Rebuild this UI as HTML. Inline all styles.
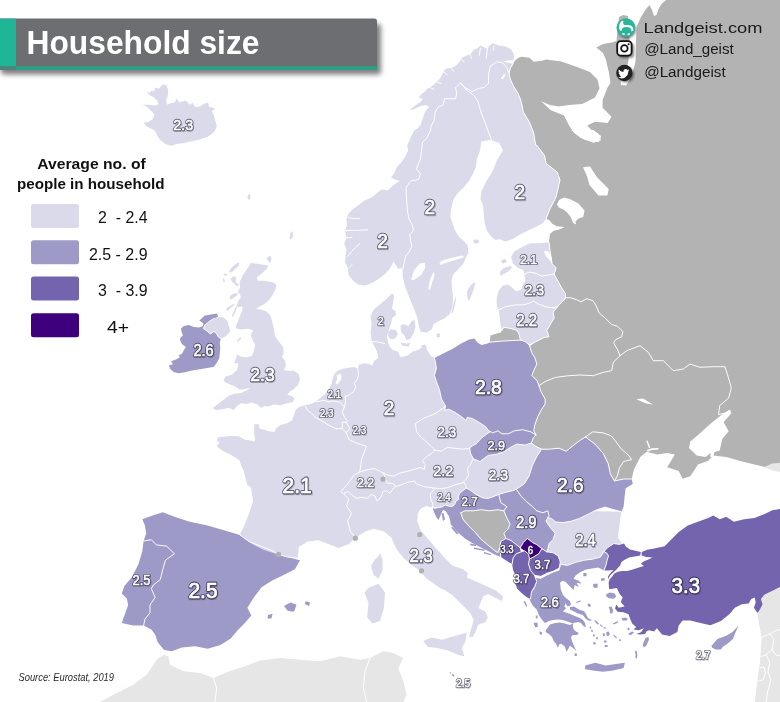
<!DOCTYPE html>
<html><head><meta charset="utf-8"><title>Household size</title>
<style>
html,body{margin:0;padding:0;background:#fff;}
body{width:780px;height:702px;overflow:hidden;font-family:"Liberation Sans",sans-serif;}
svg{display:block;position:absolute;left:0;top:0;}
#ov{will-change:transform;}
text{font-family:"Liberation Sans",sans-serif;}
.lo{fill:#2b2840;stroke:#2b2840;opacity:.66;stroke-linejoin:round;text-anchor:middle;}
.lb{fill:#fff;stroke:#fff;stroke-linejoin:round;text-anchor:middle;}
.ls{fill:#000;opacity:.22;text-anchor:middle;}
</style></head><body>
<svg width="780" height="702" viewBox="0 0 780 702">
<rect width="780" height="702" fill="#fff"/>

<g stroke-linejoin="round">
<polygon fill="#b3b3b3" points="513.1,63.8 515,60.5 518,58 521.3,56.7 529.5,57.7 533.6,61.8 541.8,60.8 546,59.5 561.5,61.5 577,67 590,72 597.5,79.5 599.5,88.5 595,97.5 582,104 569,105 559,106.5 550,105 541,101.3 551,110.3 564,115.4 569,125.6 574.4,133.3 584.6,139.7 598.7,142.3 601.3,136 592.3,130.8 587.2,125.6 595,121.8 607.7,123 611.5,116.7 602.6,107.7 602.6,100 607.7,87.2 610.5,83 609,73 606,60 603,53 596.4,47.4 603,44 612,42.5 616.5,41 617.5,30 619,17 623,15 628,16 629.5,30 629.5,45 628.5,60 626,72 620.5,81 621,85 626,85.5 631,78 635.5,62 636,40 636.5,27 641,17 646,9 649.5,5 652,10 654,16 656.5,15 659,8 661.5,4 666,0 780,0 780,463 764.6,467 744,462 726.2,457 713.3,455.6 708.2,460.8 698,464.6 690.3,476.2 682.6,478.7 678.7,471 667.2,467.2 674.9,454.4 667.2,453 657,454.4 646.7,451.8 640.3,457 633.8,469.7 631.8,479 623.6,479 614.4,481 610.3,473.8 608.2,463.6 603.1,453.3 594.9,444.1 585.6,436.9 580.5,440 572.3,446.2 566.2,451.3 559,448.2 549.7,449.2 541.5,449.2 535.4,446.2 531.3,443 533.3,437.9 535.9,434.9 533.8,430.8 534.9,424.6 537.9,416.4 541,410.3 545.1,404.1 545.1,399 541,391.8 539,385.6 536.9,380.5 531.8,375.4 533.8,370.3 536.9,364.1 534.9,357.9 531.8,352.8 529.7,346.3 535.6,341.8 543.8,337.7 549,336.7 546.9,330.5 551,323.3 554.1,318.2 553.1,312.1 558.2,305.9 564.4,299.7 565.4,297.7 565.4,293.6 561.3,287.4 558.2,281.3 555.1,276.2 554.1,274.1 556.2,267.9 552.1,263.8 550,250.5 549,242.3 549.2,240 550,233.8 553.8,230.8 560,229.2 564.6,226.9 556.9,226.2 552.3,223.8 549.2,220 546,219 543.8,222.5 546,219 549.7,209.5 556.2,196.7 560,180 557.4,172.3 546,163.3 544.6,155.6 537,145.4 535.6,144.9 533.6,132.6 529.5,122.3 523.3,112 521.3,101.8 518.2,93.6 513.1,85.4 510,78.2 509,73 510.5,68"/>
<polygon fill="#b3b3b3" points="489.7,342.2 490.5,335.6 496.7,333.6 500.8,332.6 501.8,330.5 503.8,327.4 511,328.5 517.2,330.5 519.2,334.6 521.5,340.1"/>
<polygon fill="#e6e6e6" points="100,702 113.3,694.7 133.3,684.7 146.7,674.7 156.7,659.7 163.3,654.7 168.3,656.3 170,664.7 183.3,671.3 200,673 213.3,678 228.2,671.8 243.6,666.7 260,660.5 280,658 300,659.7 320,661.3 340,656.3 360,659.7 370,658 383.3,651.3 393.3,653 403.3,658 398.3,668 403.3,681.3 406.7,694.7 403.3,702"/>
<polygon fill="#e6e6e6" points="757.4,613 760,609.6 762.6,604.3 760.9,599.1 764.3,594.8 773,590.4 780,587 780,702 754.8,702 756.5,687.8 758.3,673.9 760,661.7 760.9,649.6 761.7,637.4 760,628.7 758.3,620"/>
<polygon fill="#e6e6e6" points="764.6,467 772,463.5 780,463 780,472 772,470.5"/>
<polygon fill="#dadaeb" points="146.3,92.1 149.8,92.7 151.5,90.4 154.4,91.5 155,87.5 159,88.7 162.5,84.6 166.5,85.2 168.3,90.4 167.7,96.2 166,100.8 167.1,104.8 171.2,103.1 174.6,102.5 176.9,98.5 179.2,102.5 182.7,101.3 186.2,100.8 189.6,104.8 192.5,103.1 195.4,107.1 200,106.5 204,103.7 208.1,102.5 209.2,107.1 215,108.3 212.1,111.2 213.8,115.8 215.6,121.5 216.7,126.2 215,130.8 211.5,134.2 206.9,137.1 200,139.4 191.9,141.2 183.8,142.9 176.9,144 171.2,145.8 165.4,144 160.2,140 157.3,135.4 155,130.8 151,128.5 146.3,126.2 143.5,122.7 148.1,122.1 152.7,119.2 154.4,114.6 151.5,111.2 146.9,107.1 142.9,104.8 148.7,104.8 155,105.4 158.5,104.2 157.3,100.8 153.8,97.3 150.4,95.6"/>
<polygon fill="#dadaeb" points="248,195 250,194 250.5,198 249,200 247.5,198"/>
<polygon fill="#dadaeb" points="290,234 292.5,231 293,236 291,240 289.5,238"/>
<polygon fill="#dadaeb" points="251,262.8 258.7,264.1 268.3,265.4 266.4,269.2 261.3,273.7 256.8,277.6 257.4,280.8 265.1,280.8 274.1,282.7 276.7,285.3 274.7,291 271.5,296.8 267.7,301.3 263.8,304.5 259.4,306.4 256.2,309 261.3,309.6 266.4,311.5 270.3,315.4 272.2,321.8 273.6,328.1 275,336.2 279,341.7 283.1,347.1 283.8,353.8 281.7,356.5 285.1,360.6 285.8,366 283.8,370.1 287.8,370.7 293.9,370.7 298.6,374.1 300,379.5 298,385 293.9,389 289.8,391.7 287.1,395.1 291.2,395.8 294.6,398.5 293.2,401.9 287.1,403.2 280.4,405.3 273.6,404.6 268.2,406.6 264.1,405.9 261.4,408 257.4,404.6 251.9,402.5 246.5,403.9 241.1,403.2 237.1,405.9 233.7,410 228.9,408 222.2,409.3 215.4,410 212.7,408 218.1,403.9 223.5,399.8 228.9,395.8 234.4,393.7 241.1,393.1 246.5,390.4 250.6,387.7 245.2,389 239.8,389.7 234.4,386.3 227.6,383.6 223.5,380.9 224.9,376.8 231.7,374.8 237.1,370.1 238.4,363.3 233.7,363.3 235.7,359.2 237.1,354.5 240.4,356.5 246.5,357.2 251.9,355.9 254,350.4 255.3,344.4 252.6,340.3 250.6,334.9 253.3,330.1 254.2,332.1 252.3,330.1 247.2,328.8 240.8,329.5 235.6,328.2 236.3,325 238.2,320.5 240.1,315.4 242.1,310.9 242.7,306.4 239.5,307.1 236.3,306.4 238.2,301.3 240.8,297.4 240.1,294.2 237.6,292.3 240.1,287.2 239.5,282.1 241.4,278.8 242.7,275 245.3,271.8 247.8,267.9"/>
<polygon fill="#dadaeb" points="235.6,307.1 237.6,306.4 235,312.8 233.1,316.7 231.8,316 233.7,311.5"/>
<polygon fill="#dadaeb" points="226,309 229.2,306.4 233.7,303.8 234.4,305.1 230.5,308.3 227.3,310.9"/>
<polygon fill="#dadaeb" points="229.9,296.2 233.7,293.6 237.6,292.9 236.9,295.5 232.4,298.7 230.5,299.4"/>
<polygon fill="#dadaeb" points="230.5,278.8 233.7,276.3 236.3,277.6 235.6,282.1 238.8,284.6 237.6,286.5 234.4,284 231.8,281.4"/>
<polygon fill="#dadaeb" points="229.2,271.2 232.4,266.7 236.3,263.5 239.5,262.2 238.8,265.4 235.6,268.6 232.4,271.8 229.9,272.8"/>
<polygon fill="#dadaeb" points="224.1,273.5 227.3,274 226.8,275.6 223.8,275.2"/>
<polygon fill="#dadaeb" points="222.8,278.8 224,278.6 224.9,282.1 223.6,282.4"/>
<polygon fill="#dadaeb" points="267.7,257.1 270.3,255.8 271.5,259 270.3,262.8 268.3,261.5 267,259"/>
<polygon fill="#dadaeb" points="236.8,341.4 239.1,338.3 241.4,336.9 240.4,339.6 237.7,341.9"/>
<polygon fill="#dadaeb" points="213.9,318.5 218.8,317 223.8,317.5 227.3,321 228.8,326 230.3,330.9 227.3,334.9 223.8,337.4 220.8,338.4 218.3,336.9 216.8,333.9 213.9,331.4 210.4,333.9 206.9,330.9 203.4,328.4 204.9,325 209.9,321"/>
<polygon fill="#dadaeb" points="513.1,63.8 508,62.8 503,61.5 507,60.5 513.1,60.2 514.3,56.7 513.1,52.6 511,49.5 505.9,46.4 498.7,45.4 492.6,43.3 489.5,45.4 487.5,49 484.4,47.4 480.3,45.4 477.2,48.5 474.1,49.5 471,53.6 466.9,55.6 461.8,57.7 459.7,61.8 455.6,65.9 451.5,67.9 447.4,67.9 444.4,70 442.3,74.1 440.3,78.2 437.2,81.3 434.1,84.4 431,86.4 427.9,88.5 424.9,91.5 420.8,94.6 418.7,97.7 422.8,98.7 420.8,101.8 414.6,105.9 409.5,110 414.6,109 420.8,105.9 425.9,104.9 429,106.9 424.9,112 422.8,118.2 420.8,124.4 417.7,128.5 414.4,130 410.3,138.2 407.2,145.4 408.2,150.5 405.1,156.7 401,162.8 396.9,166.9 394.9,172.1 390.8,178.2 399,181.3 391.8,186.4 387.7,190.5 381.5,189.5 377,193 371.3,197.8 364.2,200.7 358.5,205 352.8,209.2 348.5,213.5 346.4,219.2 347.1,224.9 345,230.6 346.4,237.7 344.2,243.4 346.4,249.1 345.7,254.8 345,262 347.8,267.6 348.5,274.8 352.8,280.5 358.5,284.7 365.6,285.5 372.7,282.6 378.4,279 384.1,274.8 388.4,270.5 391.3,266.2 393.4,261.2 395.5,264.8 398.4,269.1 401.2,267.6 402.6,271.9 402.7,276.3 404.4,284.8 407.8,293.4 411.2,301.9 414.7,310.5 417.2,317.3 418.9,325.9 420.6,331.8 426.6,332.7 431.8,329.3 433.5,324.1 439.4,320.7 444.6,318.2 449.7,313.9 452.3,307.1 453.1,298.5 452.3,290 451.4,281.4 453.1,274.6 458.2,269.4 463.4,263.5 465.9,257.5 468.5,252.4 467.6,245.5 463.4,240.4 459.1,237 455.7,231.8 453,225 450.3,216.2 451.3,207.9 453.3,199.7 457.4,193.6 463.6,187.4 468.7,181.3 472.8,174.1 475.9,166.9 476.9,158.7 480,150.5 481.3,141.5 490,140 499.2,142.8 503,150.5 496.7,160.8 492.8,171 486.4,181.3 481.3,191.5 480.5,199 483,205 484.6,223.1 486.9,230.8 490.8,236.2 495.4,240 500,239.2 505.4,241.5 512.3,239.2 520,234.6 529.2,230 538.5,225.4 543.8,222.5 546,219 549.7,209.5 556.2,196.7 560,180 557.4,172.3 546,163.3 544.6,155.6 537,145.4 535.6,144.9 533.6,132.6 529.5,122.3 523.3,112 521.3,101.8 518.2,93.6 513.1,85.4 510,78.2 509,73 510.5,68"/>
<polygon fill="#dadaeb" points="472.8,240.5 476,239.3 479,240.6 478.5,243.2 474.5,243.6"/>
<polygon fill="#dadaeb" points="467.6,298.5 466.8,291.7 470.2,285.7 474.5,282.3 475.3,284 472.8,291.7 470.2,298.5 468.8,301.1"/>
<polygon fill="#dadaeb" points="451.4,312.2 454,301.9 456.2,295.1 455.4,303.6 452.8,313"/>
<polygon fill="#dadaeb" points="549,242.3 539.7,243.3 529.5,243.3 521.3,247.4 514.1,251.5 511,256.7 513.1,263.8 518.2,267.9 523.3,270 524.4,274.1 525.4,280.3 523.7,283.3 521.3,289.5 516.2,291.5 512.1,287.4 507.9,284.4 502.8,285.4 498.7,290.5 496.7,297.7 496.7,305.9 498.7,310 499.7,318.2 500.8,326.4 501.8,330.5 503.8,327.4 511,328.5 517.2,330.5 519.2,334.6 520.3,339.7 525.4,341.8 529.5,344.9 535.6,341.8 543.8,337.7 549,336.7 546.9,330.5 551,323.3 554.1,318.2 553.1,312.1 558.2,305.9 564.4,299.7 565.4,297.7 565.4,293.6 561.3,287.4 558.2,281.3 555.1,276.2 554.1,274.1 556.2,267.9 552.1,263.8 550,250.5"/>
<polygon fill="#dadaeb" points="499.7,272.1 503.8,267.9 510,265.9 512.1,266.9 509,271 503.8,274.1 500.8,276.2"/>
<polygon fill="#dadaeb" points="500.8,260.8 504.9,258.7 506.9,261.8 502.8,263.8"/>
<polygon fill="#dadaeb" points="240.2,533.4 244.1,526.1 248.6,514.7 253.2,501 250.9,487.4 247.3,485 245,476.5 243.5,470.4 241.2,465.8 239.6,460.4 235,457.3 229.6,454.2 225,451.9 219.6,448.8 216.5,445.8 219.6,442.7 216.5,440.4 218.1,437.3 225,436.5 232.7,435.8 239.6,436.5 244.2,439.6 249.6,440.4 255,441.2 254.2,431.9 254.2,424.2 258.8,424.2 259.6,428.8 263.5,429.6 268.8,431.2 274.2,431.9 276.5,428.1 280.4,425 286.5,423.5 291.9,420.4 294.2,415 295.8,409.6 300.4,406.5 305.5,405 310.4,404.2 315.5,401.7 320.6,397.8 325.1,394 329,388.8 331.5,383.7 332.8,378.6 334.7,373.5 338.6,370.3 343.7,368.6 348.8,367.7 354.6,367.1 357.8,369 359.1,364.5 364.2,363.2 368.7,363.8 371.9,365.8 374.5,360.6 378.3,358.1 377.1,351.7 374.5,346.5 371.9,341.4 370.5,333.3 371.5,324.1 370.5,315.9 373.6,309.7 379.7,304.6 385.9,299.5 392.1,293.3 394.1,295.4 393.1,302.6 392.1,308.7 395.1,310.8 396.2,314.9 392.1,317.9 391,324.1 389,329.2 386.9,336.4 387.9,341.5 389,345.6 392.1,349.7 398.2,351.8 400.3,356.9 406.4,355.9 412.6,351.8 418.7,349.7 423,346.5 426,348 428,351.8 431,355.9 434.4,358 470,380 500,420 528,438 531.3,443 535.4,446.2 541.5,449.2 546,456 545,470 530,500 500,510 470,515 450,512 440,507 432.6,507.8 426.2,506 420.4,508.8 417.8,514 417.3,521.2 420.9,530.6 427.9,538.8 436.1,548.2 444.4,557.6 452.6,565.8 463.2,569.3 467.9,572.9 466.7,577.6 474.9,581.1 485.5,585.8 496.1,590.5 503.1,596.4 501.9,601.1 494.9,597.5 487.8,594 483.1,596.4 480.8,602.2 478.4,608.1 485.5,611.6 487.8,617.5 485.5,622.2 478.4,624.6 476.1,630.4 472.6,637.5 469,636.3 471.4,628.1 473.7,619.9 470.2,612.8 464.3,606.9 457.3,599.9 452.6,595.2 445.5,590.5 439.7,588.1 433.8,583.4 426.7,578.7 419.7,570.5 412.6,565.8 404.4,558.8 397.4,550.5 394,544 391.5,537.7 383.8,531.3 373.6,528.7 365.9,531.3 355.4,537.7 349,544 338.7,548 328.5,544 318.2,540.3 308,541.5 299,546.7 297.7,558.2 270,566 245,548"/>
<polygon fill="#dadaeb" points="387.9,332.3 391,329.2 396.2,330.3 397.8,334.4 395.1,338.5 391,339.5 388.4,336.4"/>
<polygon fill="#dadaeb" points="400.3,326.2 403.3,324.1 408.5,326.2 411.5,321 414.6,320 415.6,327.2 413.6,333.3 410.5,338.5 406.4,340.5 404.4,335.4 401.3,332.3"/>
<polygon fill="#dadaeb" points="400.3,342.6 406.4,343.6 410.5,342.6 408.5,346.7 402.3,345.6"/>
<polygon fill="#dadaeb" points="436.4,333.6 439.8,333.8 440,337 436.8,337.4"/>
<polygon fill="#dadaeb" points="421.5,345.5 425,344.5 427,347.5 424.5,350.5 422,349"/>
<polygon fill="#dadaeb" points="380,553 382.6,559.5 382.6,569.7 378.7,578.7 373.6,574.9 371,565.9 374.9,559.5 378.5,556"/>
<polygon fill="#dadaeb" points="368.5,587.7 378.7,583.8 385.1,592.8 383.8,608.2 380,621 372.3,623.6 367.2,617.2 368.5,603 364.6,592.8"/>
<polygon fill="#dadaeb" points="423.2,641 431.4,637.5 442,639.8 453.8,636.3 466.7,632.8 465.5,641 462,648.1 464.3,656.3 458.5,655.1 447.9,650.4 437.3,648.1 427.9,646.9"/>
<polygon fill="#dadaeb" points="545,510 621.5,511.8 620.5,517.4 619.2,527.7 618,538 621.8,543 625,548 606,560 590,562 575,566 560.3,566 545,555 543,530"/>
<polygon fill="#9e9ac8" points="199.4,320.5 204.9,315.5 210.9,314.5 216.8,313.5 218.3,316.5 213.9,318.5 209.9,321 204.9,325 203.4,328.4 206.9,330.9 210.4,333.9 213.9,331.4 216.8,333.9 218.3,336.9 220.8,338.4 219.8,342.9 220.3,347.9 219.8,352.9 219.3,357.9 216.8,362.8 213.9,366.8 208.9,367.8 202.9,368.8 196.9,369.8 190.9,370.8 184.9,372.3 179,373.3 174,372.3 170,368.8 169,365.3 173,364.3 171,361.3 176,359.4 180,356.9 178.5,354.9 181.9,353.9 183.9,349.9 185.9,346.9 181.9,343.9 180,339.9 180.5,337.4 182.9,335.4 181.5,331.4 181,328.4 183.9,326 188.9,325 193.9,326.9 198.9,327.4 202.9,326 203.4,323.5"/>
<polygon fill="#9e9ac8" points="142.3,519.2 152.6,515.4 162.8,512.3 174.4,516.7 189.7,521.8 207.7,525.6 225.6,530.8 240,535 251.3,543.6 264.1,550 278.2,554.4 289.7,557.7 300,560.3 294.9,569.2 284.6,574.4 271.8,580.8 261.5,587.2 253.8,597.4 247.4,607.7 251.3,615.4 244.9,623 237.2,630.8 230.8,638.5 220.5,644.9 207.7,648.7 194.9,646.2 182,647.4 171.8,651.3 164.1,650 157.7,642.3 155.1,634.6 151.3,629.5 143.6,625.6 133.3,625.6 121.8,623 124.4,615.4 128.2,605 126.9,598.7 121.8,593.6 124.4,585.9 132,576.9 138.5,564 142.3,551.3 143.6,541 146.2,533.3 144.9,525.6"/>
<polygon fill="#9e9ac8" points="284,605.9 287.5,604 290.8,602.4 296.5,604.7 294.2,611.6 290.5,611.4 287.4,610.4 285.5,608"/>
<polygon fill="#9e9ac8" points="268,615 272.6,613.8 271.4,618.4 267.5,618.4"/>
<polygon fill="#9e9ac8" points="305.6,601.3 310.2,602.4 309,605.9 304.9,604"/>
<polygon fill="#9e9ac8" points="434.4,358 442.6,353.8 452.8,348.7 461,343.6 469.2,339.5 474.4,338.5 477.4,342.6 481.5,345 487.7,343.6 489.7,342.2 502,341.1 512.3,340.5 521.5,340.1 526.7,342.6 529.7,346.3 531.8,352.8 534.9,357.9 536.9,364.1 533.8,370.3 531.8,375.4 536.9,380.5 539,385.6 541,391.8 545.1,399 545.1,404.1 541,410.3 537.9,416.4 534.9,424.6 533.8,430.8 535.9,434.9 530.8,431.8 522.6,429.7 514.4,430.8 508.2,433.8 502,433.8 498,430.8 492.8,432.8 488.7,430.8 485.6,426.7 479.5,422.6 472.3,418.5 467.2,417.4 466.2,420.5 461,416.4 454.9,412.3 448.7,409.2 444.6,410.3 445.6,406.2 441.5,399 439.5,389.7 436.4,381.5 434.4,375.4 436.4,368.2 435.4,362"/>
<polygon fill="#9e9ac8" points="470.5,447.7 472.4,445.8 476.3,443.8 481.4,438.1 486.5,434.2 490.4,431.7 496.8,429.7 501.9,434.2 507,432.3 514.7,430.4 522.6,429.7 530.8,431.8 535.9,434.9 533.3,437.9 531.3,443 525.1,445.1 517,444.1 510.8,447.2 504.6,451.3 496.4,454.4 488.2,455.4 480,461.5 473.3,458.8 470.4,453.1"/>
<polygon fill="#9e9ac8" points="541.5,449.2 549.7,449.2 559,448.2 566.2,451.3 572.3,446.2 580.5,440 585.6,436.9 594.9,444.1 603.1,453.3 608.2,463.6 610.3,473.8 614.4,481 623.6,479 631.8,479 632.8,484.1 625.6,488.2 624.6,496.4 623.6,506.7 621.5,511.8 611.3,509 605,507.1 596.5,509.9 588.1,514.2 579.6,518.4 571.2,521.2 562.7,522.6 555.6,521.9 551.4,518.4 547.9,517.7 547.9,510.8 542.8,512.8 536.7,510.8 532.6,506.7 526.4,501.5 521.3,496.4 516.2,489.2 524.1,484.1 529.2,475.9 532.3,465.6 536.4,457.4"/>
<polygon fill="#9e9ac8" points="432.6,507.8 434.9,508.3 438.5,507.4 442.1,506.9 445.2,505.1 448.3,506 451.9,506.5 454.6,504.7 456,501.1 458.7,499.3 458.2,496.6 459.6,493.5 462.7,490.8 466.3,488.1 469.9,489.9 473.5,492.6 478,495.7 483.4,498 487.8,498.4 491.5,497.4 498.7,494.4 500.8,502.6 506.9,506.7 503.8,510.8 497.7,509.7 489.5,510.8 481.3,509.7 473.1,510.8 464.9,510.8 460.8,512.8 462.8,519 469,526.2 475.1,532.3 481.3,539.5 487.4,544.6 493.6,549.7 497.7,552.8 499.7,547.7 500.8,556.9 495.6,554.9 489.5,551.8 481.3,547.7 473.1,543.6 464.9,538.5 456.7,531.3 450.5,524.1 450.1,520 448.8,515.9 445.6,511 443,510.1 442.1,511.4 440.3,515.9 438.5,520 436.7,517.7 434,512.3"/>
<polygon fill="#9e9ac8" points="441.5,513.5 443.5,513 445,519.5 443,521"/>
<polygon fill="#9e9ac8" points="451,527.5 453,527 458.5,533.5 457,534.5"/>
<polygon fill="#9e9ac8" points="470,543.5 476,544.5 476,546 470.5,545.5"/>
<polygon fill="#9e9ac8" points="474,547.5 484.5,549.5 484.5,551 474,549"/>
<polygon fill="#9e9ac8" points="484,552 491,554 491,555.3 484,553.5"/>
<polygon fill="#b3b3b3" points="460.8,512.8 464.9,510.8 473.1,510.8 481.3,509.7 489.5,510.8 497.7,509.7 503.8,510.8 506.9,517.9 510,524.1 507.9,529.2 503.8,533.3 505.9,538.5 500.8,541.5 499.7,547.7 497.7,552.8 493.6,549.7 487.4,544.6 481.3,539.5 475.1,532.3 469,526.2 462.8,519"/>
<polygon fill="#9e9ac8" points="498.7,494.4 505.9,492.3 514.1,490.3 516.2,489.2 521.3,496.4 526.4,501.5 532.6,506.7 536.7,510.8 542.8,512.8 547.9,510.8 549,515.9 545.9,521 550,527.2 555.1,533.3 553.1,539.5 549,543.6 547.9,548.7 546.9,551.8 541.8,548.7 536.7,544.6 532.6,542.6 527.4,538.5 523.3,542.6 520.3,547.7 516.2,544.6 511,540.5 505.9,538.5 503.8,533.3 507.9,529.2 510,524.1 506.9,517.9 503.8,510.8 506.9,506.7 500.8,502.6"/>
<polygon fill="#9e9ac8" points="529.5,599.2 530.5,594.1 534.6,587.9 536.7,582.8 534.6,577.7 540.8,578.7 546.9,575.6 553.1,572.6 559.2,570.5 561.3,564.4 567.4,565.4 575.6,562.3 583.8,560.3 592.1,559.2 600.3,557.2 604,551.6 607.1,553.4 608.5,556.1 607.1,560.1 606.2,564.6 604,570.5 598.2,567.4 592.1,568.5 585.9,569.5 579.7,572.6 575.6,575.6 573.6,578.7 578.7,580.8 581.8,583.8 576.7,582.8 578.7,586.9 574.6,584.9 573.6,590 569.5,585.9 565.4,581.8 562.3,580.8 560,582.8 560.9,590 563,595 566.5,598.5 569.9,601 571,604 569.9,606 567.5,606.3 565.4,603.2 564.5,606.5 566,608.5 563.9,610.4 562.9,611.4 568.9,613.4 574.9,615.9 579.9,617.9 582.9,619.9 584.9,622.9 585.9,626.9 583.9,626.4 580.9,622.9 577.9,621.9 573.9,622.9 572.9,623.5 568.9,621.9 562.9,619.9 557.9,619.4 553,619.9 549,620.9 545,622.9 543,620.9 540,616.9 538.7,614.6 536.7,609.5 532.6,605.4"/>
<polygon fill="#9e9ac8" points="569.9,606.9 573.9,606.5 579.9,609.9 583.9,610.9 585.9,613.9 587.9,617.9 591.8,619.9 590,621 585.9,618.9 582.9,614.9 577.9,613.4 573.9,611.4 569.9,609.4"/>
<polygon fill="#9e9ac8" points="550,624.4 555,622.9 559.9,622.4 564.9,623.4 569.9,624.9 572.9,623.5 572.9,626.9 573.9,629.4 575.9,631.4 578.9,632.9 576.9,634.9 572.9,634.9 570.9,636.9 571.9,640.8 573.9,645.8 576.4,650.8 572.9,647.8 569.9,645.8 568.4,648.8 566.4,651.8 564.9,646.8 561.4,643.8 559.4,644.3 557.9,647.8 556,643.8 553.5,640.8 552,636.9 549,633.9 545.5,631.9 546,629.9"/>
<polygon fill="#9e9ac8" points="585.1,665.4 595.4,662.8 605.6,665.4 615.9,664.1 624.9,662.8 623.6,667.9 613.3,670.5 603.1,671.8 592.8,670.5 585.1,669.2"/>
<polygon fill="#9e9ac8" points="523.3,601.3 525.3,601.5 527.4,606.4 526,606.6"/>
<polygon fill="#9e9ac8" points="535.8,615.5 537.6,615.5 537.6,618.5 535.8,618.5"/>
<polygon fill="#9e9ac8" points="533.6,622.8 537.6,622.8 537.8,627 535,627"/>
<polygon fill="#9e9ac8" points="539.3,631.6 541.8,632 542.3,634.5 540,634.4"/>
<polygon fill="#9e9ac8" points="583.3,573 586.5,573 586.5,576.2 583.3,576.2"/>
<polygon fill="#9e9ac8" points="600.9,578.6 604.5,578 604.7,580.4 601.2,581"/>
<polygon fill="#9e9ac8" points="593.2,584 597.5,583.5 597.7,587.4 594.6,588 593.2,586.5"/>
<polygon fill="#9e9ac8" points="606,594.5 609.5,592.4 614.5,593.2 616.3,596.5 613.5,598.8 609,598.2 606.5,596.8"/>
<polygon fill="#9e9ac8" points="608.6,607 611.5,606.5 613,610 612.4,613.6 610,613.2 609.8,609.8"/>
<polygon fill="#9e9ac8" points="621.4,618.2 625,617.4 627.8,618.4 626.8,620.6 622.5,620.4"/>
<polygon fill="#9e9ac8" points="613,623.2 617.5,621.3 618.2,622.6 614,624.5"/>
<polygon fill="#9e9ac8" points="587.5,604 589.5,603.6 591,605.5 590,607 588,606.3"/>
<polygon fill="#9e9ac8" points="576.2,602 578,601.3 580.6,600.2 580.6,601.4 578,602.6 576.4,603"/>
<polygon fill="#9e9ac8" points="594.3,620.6 595.8,620.2 599,623.8 598,624.8 595.6,622.6"/>
<polygon fill="#9e9ac8" points="599.6,624.8 600.8,624.4 602.8,626.4 601.8,627"/>
<polygon fill="#9e9ac8" points="606.4,632 608.8,631.6 609.8,634.5 608,636.6 606.3,635"/>
<polygon fill="#9e9ac8" points="602.6,633.4 604.6,633.2 605,635.8 603,636.3"/>
<polygon fill="#9e9ac8" points="593,642.4 595.4,642 595.8,644.2 593.4,644.6"/>
<polygon fill="#9e9ac8" points="604,640.5 606.5,640.5 606.5,642.5 604,642.5"/>
<polygon fill="#9e9ac8" points="604.8,645 607.6,645 607.6,647 604.8,647"/>
<polygon fill="#9e9ac8" points="589.6,626.4 591,626.4 591.2,628.6 589.8,628.4"/>
<polygon fill="#9e9ac8" points="591.2,629.8 592.6,629.8 592.8,632.2 591.4,632"/>
<polygon fill="#9e9ac8" points="593,634.4 594.8,634.4 594.8,636.4 593,636.4"/>
<polygon fill="#9e9ac8" points="596.2,637 597.8,637 597.8,639.2 596.2,639.2"/>
<polygon fill="#9e9ac8" points="603.4,626.8 605.4,627.2 605.8,628.6 603.8,628.4"/>
<polygon fill="#9e9ac8" points="613,634.9 614.2,634.7 617,637.6 616.2,638.6"/>
<polygon fill="#9e9ac8" points="619,639.4 621,639.2 621.2,640.8 619.2,641"/>
<polygon fill="#9e9ac8" points="628.5,633.5 632,631.5 634.2,632.2 631.5,634.7 629,634.9"/>
<polygon fill="#9e9ac8" points="627.4,628 629.2,627.6 629.6,630 627.8,630.2"/>
<polygon fill="#9e9ac8" points="642.6,645 645.4,638 648.4,636.7 649,639.5 646.5,645.2 644,647.6"/>
<polygon fill="#9e9ac8" points="634.9,651 636.6,650.8 637.4,655 636.8,658.5 635.4,658 635.6,654.5"/>
<polygon fill="#9e9ac8" points="574.6,653.4 576.8,653.4 576.8,656 574.6,656"/>
<polygon fill="#9e9ac8" points="711.3,646.1 717.4,639.1 726.1,635.7 732.2,632.2 738.6,625.6 734.8,633.9 733,639.1 727.8,643.5 722.6,647 720.9,649.6 715.7,649.6 712.2,647.8"/>
<polygon fill="#9e9ac8" points="449.6,672 450.6,672.2 451.2,673.6 450.2,673.4"/>
<polygon fill="#9e9ac8" points="452,674 453.3,674 454.6,676 453.6,676.8 452.4,675.6"/>
<polygon fill="#7464ad" points="604,551.6 607.6,547.6 613.9,543.5 619.2,544.4 623.7,543.1 626,546.7 630,549.4 635.4,550.7 640.8,552.1 640.3,555.6 634.5,556.5 629.1,557.4 624.6,559.7 621.5,561.9 620.1,565.5 616.5,569.6 613,572.7 609.8,575.8 608.5,579.4 608,576.3 610.7,572.7 613.4,570 608.5,570.5 604,570.5 606.2,564.6 607.1,560.1 608.5,556.1 607.1,553.4"/>
<polygon fill="#7464ad" points="641.7,552.1 647.1,549.8 654.2,548.5 664.6,546.2 672.3,538.5 678.7,532 687.7,525.6 698,521.8 708.2,517.9 713.3,515.4 719.7,519.2 726.2,516.7 733.8,521.8 744.1,519.2 754.4,517.9 764.6,514.1 772.3,510.3 780,509 780,587 773,590.4 764.3,594.8 760.9,599.1 762.6,604.3 760,609.6 757.4,613 753.9,607.8 755.7,602.6 754.8,597.4 751.3,599.1 748.7,603.5 741.7,604.3 734.8,607.8 729.6,613.9 720.9,620.9 710.4,625.2 700.5,623.1 690.3,620.5 682.6,620.5 678.7,625.6 677.4,632 669.7,635.9 662,634.6 656.9,628.2 654.1,631.5 649,630.3 646.4,631.5 645.1,634.1 640,634.6 636.2,634.1 641,632.2 643.8,628.3 638.7,630.3 633.6,629.6 636.2,627.1 632.3,623.8 630.4,619.4 628.5,614.2 623.3,612.3 617.6,611.7 615,608.5 616.3,604.6 618.8,607.8 624.6,606.5 620.8,602.1 622.7,597.6 619.5,593.7 616.9,587.9 609.2,589.2 608.6,582.8 609.5,579.5 611.6,577.2 614.3,573.6 617.9,571.8 621.9,570.9 627.3,570.9 632.7,569.6 638.1,567.8 643.9,566 640.8,563.7 643.5,561.5 648.9,559.2 652.5,557.4 646.2,557 641.7,555.6"/>
<polygon fill="#7464ad" points="500.8,556.9 499.7,547.7 500.8,541.5 505.9,538.5 511,540.5 516.2,544.6 520.3,547.7 521.3,551.8 516.2,553.8 513.1,557.9 512.1,564.1 506.9,561"/>
<polygon fill="#7464ad" points="512.1,564.1 513.1,557.9 516.2,553.8 521.3,551.8 524.4,550.8 528.5,553.8 529.5,559 528.5,564.1 530.5,570.3 534.6,575.4 536.7,581.5 534.6,586.7 531.5,591.8 530.5,599 526.4,596.9 521.3,592.8 517.2,588.7 515.1,582.6 516.2,576.4 513.1,570.3"/>
<polygon fill="#7464ad" points="529.5,559 533.6,556.9 538.7,553.8 541.8,548.7 546.9,551.8 553.1,552.8 558.2,555.9 560.3,562.1 559.2,568.2 553.1,571.3 546.9,573.3 540.8,576.4 534.6,575.4 530.5,570.3 528.5,564.1"/>
<polygon fill="#3f007d" points="527.4,538.5 532.6,542.6 536.7,544.6 541.8,548.7 538.7,553.8 533.6,556.9 529.5,559 528.5,553.8 524.4,550.8 520.3,547.7 523.3,542.6"/>
</g>
<g fill="#fff">
<polygon points="571.5,130 580.5,137.7 593.3,142.8 601,140.3 598.5,133.8 593.3,130"/>
<polygon points="583,167.2 590,166.5 597.2,177.4 608.7,189 607.4,195.4 598.5,195.4 589.5,185 587,176.2"/>
<polygon points="556.9,204.6 559,200 564,197.5 570.8,199.5 578.5,203.6 584.6,210.8 583.1,216.9 578.5,218.5 575.4,221.5 576.2,224.6 573.1,223.1 570.8,216.9 566.9,212.3 563.1,209.2 559.2,207.7"/>
<polygon points="543.8,251.5 547.7,250.8 551.5,256.9 552.3,263.1 550,260.8 546.2,256.2"/>
<polygon points="636.4,399.2 643,398.5 653,404.4 646,403.5"/>
<polygon points="501,78.5 503,75 505.3,73.5 505,76 502.5,79.5"/>
<polygon points="690.3,441.5 698,435 710.8,423.6 723.6,413.3 730,409.5 731.3,413.3 723.6,422.3 728.7,431.3 722.3,439 719.7,450.5 714.5,452 713.3,456.5 710.5,457.5 710.5,453 705.6,457 696.7,455.6 689,448"/>
<polygon points="647,450 652,448.3 658.5,448 658.5,449.6 652,450 647.5,451.8"/>
<polygon points="646.3,441 647.5,440.6 650.3,447.6 649,448.3"/>
<polygon points="411.2,279 414,270.5 419.7,263.4 424.7,262.7 425.4,267.6 421.2,274.8 415.5,279 413,280.5"/>
<polygon points="428.3,289.1 430,279.7 433.5,272 434.7,274.6 432.3,282.3 430,290"/>
<polygon points="439.4,263.5 442,260.5 451,258 462,255.5 464.5,257 454,260.5 445,263 441,265"/>
<polygon points="336.7,375.4 339.9,373.5 341.8,376 340.5,380.5 337.3,384.4 335.4,383.1 337.3,379.2"/>
</g>
<g fill="none" stroke="#fff" stroke-width="0.95" stroke-linejoin="round" stroke-linecap="round">
<polyline points="460.8,82.9 455.6,87.4 456.7,93.6 455.6,98.7 444.4,98.7 443.3,104.9 438.2,106.9 435.1,112 434.1,120.3 431,126.4 430.8,130 426.7,138.2 422.6,142.3 421.5,150.5 420.5,158.7 416.4,169 420.5,174.1 418.5,179.2 410.3,181.3 406.2,187.4 406.2,195 406.9,203.5 407.6,212.1 409.1,219.2 412.6,225.6 413.3,230.6 409.8,234.2 410.5,240.6 411.9,246.3 409.1,252 405.5,256.3 404.1,263.4 402.6,270.5"/>
<polyline points="460.8,82.9 465.9,89.5 474.1,95.6 478.2,101.8 480.3,110 483.3,118.2 486.4,126.4 489.5,134.6 491.5,140.3"/>
<polyline points="460.8,82.9 464.9,87.4 472.1,91.5 478.2,88.5 484.4,87.4 488.5,83.3 488.5,74.1 490.5,65.9 496.7,61.8 502.8,62.8 506.9,67.9 509,73"/>
<polyline points="513.1,63.8 510.5,68 509,73"/>
<polyline points="509,73 510,78.2 513.1,85.4 518.2,93.6 521.3,101.8 523.3,112 529.5,122.3 533.6,132.6 535.6,144.9 537,145.4 544.6,155.6 546,163.3 557.4,172.3 560,180 556.2,196.7 549.7,209.5 546,219 543.8,222.5"/>
<polyline points="487.5,49 486.8,53 486.2,58"/>
<polyline points="480.5,48 479.8,52 479.5,55.5"/>
<polyline points="494,46 493,50.5"/>
<polyline points="470,54.5 471.5,58.5"/>
<polyline points="461.5,59 464,62"/>
<polyline points="451,68.5 454,71"/>
<polyline points="443.5,72 447,74.5"/>
<polyline points="437,82 441,83.5"/>
<polyline points="430,87.5 434,89.5"/>
<polyline points="348.5,217.8 354,218.5 359.5,218.6"/>
<polyline points="345,230.6 352,230.4 360,230.2 367.7,229.9"/>
<polyline points="347.8,256.3 351.5,251.5 355.5,247.5 359.9,243.4"/>
<polyline points="349,268 352,264.5"/>
<polyline points="346.5,237.8 352,237.4"/>
<polyline points="390.8,178.2 395,180 399,181.3"/>
<polyline points="524.4,274.1 529.5,272.1 535.6,273.1 541.8,276.2 547.9,275.1 554.1,274.1"/>
<polyline points="498.7,310 504.9,306.9 515.1,304.9 523.3,304.9 530.5,302.8 533.6,300.8 537.7,303.8 545.9,306.9 554.1,307.9 558.2,305.9"/>
<polyline points="549,242.3 550,250.5 552.1,263.8 556.2,267.9 554.1,274.1 555.1,276.2 558.2,281.3 561.3,287.4 565.4,293.6 565.4,297.7"/>
<polyline points="565.4,297.7 564.4,299.7 558.2,305.9 553.1,312.1 554.1,318.2 551,323.3 546.9,330.5 549,336.7 543.8,337.7 535.6,341.8 529.5,344.9"/>
<polyline points="501.8,330.5 503.8,327.4 511,328.5 517.2,330.5 519.2,334.6 520.3,339.7 525.4,341.8 529.5,344.9"/>
<polyline points="489.7,342.2 502,341.1 512.3,340.5 521.5,340.1"/>
<polyline points="565.4,297.7 570.5,297.7 576.7,299.7 580.8,301.8 586.9,298.7 593.1,300.8 596.2,305.9 599.2,313.1 605.4,318.2 611.5,324.4 617.7,326.4 622.8,331.5 621.8,336.7 615.6,339.7 613.6,342.8 617.7,350 620,355.7"/>
<polyline points="620,355.7 613.3,362.3 611.7,370.7 603.3,372.3 593.3,375.7 580,375 567.7,375.8 555.4,377.4 545.1,381.5 539,385.6"/>
<polyline points="529.7,346.3 531.8,352.8 534.9,357.9 536.9,364.1 533.8,370.3 531.8,375.4 536.9,380.5 539,385.6 541,391.8 545.1,399 545.1,404.1 541,410.3 537.9,416.4 534.9,424.6 533.8,430.8 535.9,434.9"/>
<polyline points="620,355.7 626.7,350.7 640,345.7 648.3,352.3 653.3,360.7 663.3,360.7 670,367.3 673.3,370.7 683.3,369 690,364 700,367.3 713.3,366.7 725,366.7 728.3,377.3 731.3,387.7 728.7,398 719.7,405.6 718.5,414.6 723.6,413.3"/>
<polyline points="535.9,434.9 533.3,437.9 531.3,443 535.4,446.2 541.5,449.2 549.7,449.2 559,448.2 566.2,451.3 572.3,446.2 580.5,440 585.6,436.9"/>
<polyline points="585.6,436.9 592.8,431.8 603.1,432.8 611.3,435.9 615.4,441 621.5,449.2 627.7,454.4 631.8,459.5 623.6,461.5 619.5,467.7 617.4,475.9 614.4,481 610.3,473.8 608.2,463.6 603.1,453.3 594.9,444.1 585.6,436.9"/>
<polyline points="614.4,481 623.6,479 631.8,479"/>
<polyline points="434.4,358 435.4,362 436.4,368.2 434.4,375.4 436.4,381.5 439.5,389.7 441.5,399 445.6,406.2 444.6,410.3 448.7,409.2 454.9,412.3 461,416.4 466.2,420.5 467.2,417.4 472.3,418.5 479.5,422.6 485.6,426.7 488.7,430.8 492.8,432.8 498,430.8 502,433.8 508.2,433.8 514.4,430.8 522.6,429.7 530.8,431.8 535.9,434.9"/>
<polyline points="445.6,406.2 436,413.3 423,418.5 415.4,423.6 416.5,431.9 420.4,436.7 426.2,441.5 431,446.3 434.8,450.2 441.5,451.2 447.3,447.3 455,448.3 462.7,449.2 469.4,448.3 470.5,447.7 472.4,445.8 476.3,443.8 481.4,438.1 486.5,434.2 490.4,431.7"/>
<polyline points="469.4,448.3 470.4,453.1 473.3,458.8 480,461.5 488.2,455.4 496.4,454.4 504.6,451.3 510.8,447.2 517,444.1 525.1,445.1 531.3,443"/>
<polyline points="434.8,450.2 431.9,453.1 426.2,456.9 422.3,460.8 425.2,464.6 424.2,469.4 420.4,467.5 414.6,469.4 406.9,471.3 399.2,473.3 393.5,476.2 387.7,475.2 383.8,473.3"/>
<polyline points="473.3,458.8 470.4,464.6 467.5,468.5 468.5,475.2 465.6,480 462.7,482.9 455,484.8 447.3,487.7 439.6,488.7 431.9,487.7 424.2,486.7 416.5,483.8 414.6,481 408.8,481.9 401.2,484.8 395.4,486.7 393.5,483.8 386.7,482.9 384.8,477.1 383.8,473.3"/>
<polyline points="466.3,488.1 469.9,489.9 473.5,492.6 478,495.7 483.4,498 487.8,498.4 491.5,497.4 498.7,494.4 505.9,492.3 514.1,490.3 516.2,489.2 524.1,484.1 529.2,475.9 532.3,465.6 536.4,457.4 541.5,449.2"/>
<polyline points="431.9,487.7 434,489.9 430.4,493.5 430.4,497.1 431.3,500.6 433.1,504.2 432.6,507.8"/>
<polyline points="462.7,482.9 463.6,481.8 465.8,485.4 466.3,488.1 462.7,490.8 459.6,493.5 458.2,496.6 458.7,499.3 456,501.1 454.6,504.7 451.9,506.5 448.3,506 445.2,505.1 442.1,506.9 438.5,507.4 434.9,508.3 432.6,507.8"/>
<polyline points="498.7,494.4 500.8,502.6 506.9,506.7 503.8,510.8"/>
<polyline points="460.8,512.8 464.9,510.8 473.1,510.8 481.3,509.7 489.5,510.8 497.7,509.7 503.8,510.8 506.9,517.9 510,524.1 507.9,529.2 503.8,533.3 505.9,538.5 500.8,541.5 499.7,547.7 497.7,552.8 493.6,549.7 487.4,544.6 481.3,539.5 475.1,532.3 469,526.2 462.8,519 460.8,512.8"/>
<polyline points="500.8,556.9 499.7,547.7"/>
<polyline points="505.9,538.5 511,540.5 516.2,544.6 520.3,547.7 523.3,542.6 527.4,538.5 532.6,542.6 536.7,544.6 541.8,548.7 546.9,551.8"/>
<polyline points="520.3,547.7 521.3,551.8 524.4,550.8 528.5,553.8 529.5,559 533.6,556.9 538.7,553.8 541.8,548.7"/>
<polyline points="521.3,551.8 516.2,553.8 513.1,557.9 512.1,564.1"/>
<polyline points="529.5,559 528.5,564.1 530.5,570.3 534.6,575.4 540.8,576.4 546.9,573.3 553.1,571.3 559.2,568.2 560.3,562.1 558.2,555.9 553.1,552.8 546.9,551.8"/>
<polyline points="534.6,575.4 536.7,581.5 534.6,586.7 531.5,591.8 530.5,599"/>
<polyline points="561.3,564.4 567.4,565.4 575.6,562.3 583.8,560.3 592.1,559.2 600.3,557.2 604,551.6"/>
<polyline points="604,551.6 607.1,553.4 608.5,556.1 607.1,560.1 606.2,564.6 604,570.5"/>
<polyline points="604,551.6 607.6,547.6 613.9,543.5 619.2,544.4 623.7,543.1"/>
<polyline points="516.2,489.2 521.3,496.4 526.4,501.5 532.6,506.7 536.7,510.8 542.8,512.8 547.9,510.8 549,515.9 545.9,521 550,527.2 555.1,533.3 553.1,539.5 549,543.6 547.9,548.7 546.9,551.8"/>
<polyline points="547.9,517.7 551.4,518.4 555.6,521.9 562.7,522.6 571.2,521.2 579.6,518.4 588.1,514.2 596.5,509.9 605,507.1 611.3,509 621.5,511.8"/>
<polyline points="371.5,341.5 378,342 384.9,343.6"/>
<polyline points="357.8,369 358.5,374.7 357.2,379.9 354,383.1 355.9,386.3 354,391.4 348.8,395.3 345,396.5 345.6,401.7 344.4,406.8"/>
<polyline points="344.4,406.8 339.9,402.3 333.5,401 328.3,401.7 324.5,400.4 320.6,401 316.2,401.7"/>
<polyline points="344.4,406.8 342.4,411.9 344.4,417.1 347.6,420.9 346.2,422.3 350,428.7 346.2,432.6 342.3,428.7 342.3,422.3 346.2,422.3"/>
<polyline points="305.3,406.2 307.8,410.6 311.7,413.2 314.9,417.1 318.1,419 321.9,420.9 328.2,424.9 335.9,428.7 342.3,428.7"/>
<polyline points="346.2,432.6 349.2,439.6 355,442.5 366.5,446.3 361.7,458.8 359.8,471.9"/>
<polyline points="359.8,471.9 368.5,469.4 374.2,468.5 380,471.3 383.8,473.3"/>
<polyline points="359.8,471.9 354,475.2 350.2,480 346.3,485.8 340.6,491.5 343.5,493.5 348.3,491.5 352,495.4 356.9,498.3 361.7,497.3 367.5,498.3 371.3,494.4 375.2,496.3 377,501.2 381,497.3 382.9,491.5 386.7,490.6 389.6,493.5 392.5,489.6 395.4,486.7"/>
<polyline points="343.5,493.5 349,499.2 346.4,505.6 351.5,513.3 347.7,521 350.3,531.3 355.4,537.7"/>
<polyline points="240,535 249,541.5 261.8,546.7 272,550.5 278.5,554.4 287.4,557 297.7,558.2"/>
<polyline points="143.6,541 151.3,539.7 156.4,544.9 166.7,546.2 174.4,553.8 165.4,560.3 162.8,569.2 160.3,579.5 153.8,584.6 151.3,588.5 155.1,597.4 150,605 150,612.8 144.9,619.2 143.6,625.6"/>
<polyline points="213.9,318.5 209.9,321 204.9,325 203.4,328.4 206.9,330.9 210.4,333.9 213.9,331.4 216.8,333.9 218.3,336.9 220.8,338.4"/>
<polyline points="213.3,678 216.7,688 215,702"/>
<polyline points="370,658 365,671.3 363.3,688 366.7,702"/>
<polyline points="761.7,637.4 769.6,633.9 773.9,639.1 772.2,649.6 766.1,654.8 760.9,656.5"/>
<polyline points="769.6,633.9 775,631 780,629.5"/>
<polyline points="766.1,654.8 769.6,662 768,672 771,680 768,690 766,702"/>
<polyline points="772.2,649.6 776,655 780,656"/>
<polyline points="760,668 764,667 765.5,673 763,680 759,681"/>
</g>
<g fill="#b0b0b0">
<circle cx="278.5" cy="554.4" r="2.6"/>
<circle cx="355.4" cy="538.2" r="2.6"/>
<circle cx="383" cy="479.2" r="2.6"/>
<circle cx="419.7" cy="534.6" r="2.6"/>
<circle cx="421.5" cy="570.8" r="2.6"/>
</g>

</svg>
<svg id="ov" width="780" height="702" viewBox="0 0 780 702">
<defs>
<filter id="sh" x="-10%" y="-30%" width="120%" height="180%"><feGaussianBlur stdDeviation="2.5"/></filter>
<filter id="sh2" x="-30%" y="-30%" width="160%" height="160%"><feGaussianBlur stdDeviation="1.2"/></filter>
</defs>
<g>
<text class="ls" x="184.1" y="130.787" font-size="15.33" stroke="#000" stroke-width="1.91" textLength="19.93" lengthAdjust="spacingAndGlyphs">2.3</text>
<text class="lo" x="183.3" y="129.887" font-size="15.33" stroke-width="2.31" textLength="19.93" lengthAdjust="spacingAndGlyphs">2.3</text>
<text class="lb" x="183.3" y="129.887" font-size="15.33" stroke-width="0.53" textLength="19.93" lengthAdjust="spacingAndGlyphs">2.3</text>
<text class="ls" x="204.4" y="357.08" font-size="15.59" stroke="#000" stroke-width="1.93" textLength="20.27" lengthAdjust="spacingAndGlyphs">2.6</text>
<text class="lo" x="203.6" y="356.18" font-size="15.59" stroke-width="2.33" textLength="20.27" lengthAdjust="spacingAndGlyphs">2.6</text>
<text class="lb" x="203.6" y="356.18" font-size="15.59" stroke-width="0.54" textLength="20.27" lengthAdjust="spacingAndGlyphs">2.6</text>
<text class="ls" x="263.3" y="381.896" font-size="18.7" stroke="#000" stroke-width="2.15" textLength="24.32" lengthAdjust="spacingAndGlyphs">2.3</text>
<text class="lo" x="262.5" y="380.996" font-size="18.7" stroke-width="2.55" textLength="24.32" lengthAdjust="spacingAndGlyphs">2.3</text>
<text class="lb" x="262.5" y="380.996" font-size="18.7" stroke-width="0.62" textLength="24.32" lengthAdjust="spacingAndGlyphs">2.3</text>
<text class="ls" x="383.4" y="249.347" font-size="20.52" stroke="#000" stroke-width="2.28" textLength="10.67" lengthAdjust="spacingAndGlyphs">2</text>
<text class="lo" x="382.6" y="248.447" font-size="20.52" stroke-width="2.68" textLength="10.67" lengthAdjust="spacingAndGlyphs">2</text>
<text class="lb" x="382.6" y="248.447" font-size="20.52" stroke-width="0.67" textLength="10.67" lengthAdjust="spacingAndGlyphs">2</text>
<text class="ls" x="430.7" y="215.101" font-size="20.39" stroke="#000" stroke-width="2.27" textLength="10.61" lengthAdjust="spacingAndGlyphs">2</text>
<text class="lo" x="429.9" y="214.201" font-size="20.39" stroke-width="2.67" textLength="10.61" lengthAdjust="spacingAndGlyphs">2</text>
<text class="lb" x="429.9" y="214.201" font-size="20.39" stroke-width="0.67" textLength="10.61" lengthAdjust="spacingAndGlyphs">2</text>
<text class="ls" x="520.7" y="200.101" font-size="20.39" stroke="#000" stroke-width="2.27" textLength="10.61" lengthAdjust="spacingAndGlyphs">2</text>
<text class="lo" x="519.9" y="199.201" font-size="20.39" stroke-width="2.67" textLength="10.61" lengthAdjust="spacingAndGlyphs">2</text>
<text class="lb" x="519.9" y="199.201" font-size="20.39" stroke-width="0.67" textLength="10.61" lengthAdjust="spacingAndGlyphs">2</text>
<text class="ls" x="381.6" y="325.592" font-size="11.43" stroke="#000" stroke-width="1.63" textLength="5.95" lengthAdjust="spacingAndGlyphs">2</text>
<text class="lo" x="380.8" y="324.692" font-size="11.43" stroke-width="2.03" textLength="5.95" lengthAdjust="spacingAndGlyphs">2</text>
<text class="lb" x="380.8" y="324.692" font-size="11.43" stroke-width="0.43" textLength="5.95" lengthAdjust="spacingAndGlyphs">2</text>
<text class="ls" x="529.3" y="264.443" font-size="13.25" stroke="#000" stroke-width="1.76" textLength="17.23" lengthAdjust="spacingAndGlyphs">2.1</text>
<text class="lo" x="528.5" y="263.543" font-size="13.25" stroke-width="2.16" textLength="17.23" lengthAdjust="spacingAndGlyphs">2.1</text>
<text class="lb" x="528.5" y="263.543" font-size="13.25" stroke-width="0.48" textLength="17.23" lengthAdjust="spacingAndGlyphs">2.1</text>
<text class="ls" x="535" y="295.694" font-size="15.07" stroke="#000" stroke-width="1.89" textLength="19.59" lengthAdjust="spacingAndGlyphs">2.3</text>
<text class="lo" x="534.2" y="294.794" font-size="15.07" stroke-width="2.29" textLength="19.59" lengthAdjust="spacingAndGlyphs">2.3</text>
<text class="lb" x="534.2" y="294.794" font-size="15.07" stroke-width="0.53" textLength="19.59" lengthAdjust="spacingAndGlyphs">2.3</text>
<text class="ls" x="527.4" y="327.119" font-size="15.98" stroke="#000" stroke-width="1.95" textLength="20.77" lengthAdjust="spacingAndGlyphs">2.2</text>
<text class="lo" x="526.6" y="326.219" font-size="15.98" stroke-width="2.35" textLength="20.77" lengthAdjust="spacingAndGlyphs">2.2</text>
<text class="lb" x="526.6" y="326.219" font-size="15.98" stroke-width="0.55" textLength="20.77" lengthAdjust="spacingAndGlyphs">2.2</text>
<text class="ls" x="335.3" y="398.813" font-size="10.65" stroke="#000" stroke-width="1.58" textLength="13.85" lengthAdjust="spacingAndGlyphs">2.1</text>
<text class="lo" x="334.5" y="397.913" font-size="10.65" stroke-width="1.98" textLength="13.85" lengthAdjust="spacingAndGlyphs">2.1</text>
<text class="lb" x="334.5" y="397.913" font-size="10.65" stroke-width="0.41" textLength="13.85" lengthAdjust="spacingAndGlyphs">2.1</text>
<text class="ls" x="327.5" y="417.413" font-size="10.65" stroke="#000" stroke-width="1.58" textLength="13.85" lengthAdjust="spacingAndGlyphs">2.3</text>
<text class="lo" x="326.7" y="416.513" font-size="10.65" stroke-width="1.98" textLength="13.85" lengthAdjust="spacingAndGlyphs">2.3</text>
<text class="lb" x="326.7" y="416.513" font-size="10.65" stroke-width="0.41" textLength="13.85" lengthAdjust="spacingAndGlyphs">2.3</text>
<text class="ls" x="360.2" y="434.513" font-size="10.65" stroke="#000" stroke-width="1.58" textLength="13.85" lengthAdjust="spacingAndGlyphs">2.3</text>
<text class="lo" x="359.4" y="433.613" font-size="10.65" stroke-width="1.98" textLength="13.85" lengthAdjust="spacingAndGlyphs">2.3</text>
<text class="lb" x="359.4" y="433.613" font-size="10.65" stroke-width="0.41" textLength="13.85" lengthAdjust="spacingAndGlyphs">2.3</text>
<text class="ls" x="389.8" y="415.9" font-size="20.39" stroke="#000" stroke-width="2.27" textLength="10.61" lengthAdjust="spacingAndGlyphs">2</text>
<text class="lo" x="389" y="415" font-size="20.39" stroke-width="2.67" textLength="10.61" lengthAdjust="spacingAndGlyphs">2</text>
<text class="lb" x="389" y="415" font-size="20.39" stroke-width="0.67" textLength="10.61" lengthAdjust="spacingAndGlyphs">2</text>
<text class="ls" x="489.2" y="394.54" font-size="20.78" stroke="#000" stroke-width="2.30" textLength="27.02" lengthAdjust="spacingAndGlyphs">2.8</text>
<text class="lo" x="488.4" y="393.64" font-size="20.78" stroke-width="2.70" textLength="27.02" lengthAdjust="spacingAndGlyphs">2.8</text>
<text class="lb" x="488.4" y="393.64" font-size="20.78" stroke-width="0.68" textLength="27.02" lengthAdjust="spacingAndGlyphs">2.8</text>
<text class="ls" x="447.6" y="437.715" font-size="14.29" stroke="#000" stroke-width="1.83" textLength="18.58" lengthAdjust="spacingAndGlyphs">2.3</text>
<text class="lo" x="446.8" y="436.815" font-size="14.29" stroke-width="2.23" textLength="18.58" lengthAdjust="spacingAndGlyphs">2.3</text>
<text class="lb" x="446.8" y="436.815" font-size="14.29" stroke-width="0.51" textLength="18.58" lengthAdjust="spacingAndGlyphs">2.3</text>
<text class="ls" x="444" y="477.34" font-size="15.2" stroke="#000" stroke-width="1.90" textLength="19.76" lengthAdjust="spacingAndGlyphs">2.2</text>
<text class="lo" x="443.2" y="476.44" font-size="15.2" stroke-width="2.30" textLength="19.76" lengthAdjust="spacingAndGlyphs">2.2</text>
<text class="lb" x="443.2" y="476.44" font-size="15.2" stroke-width="0.53" textLength="19.76" lengthAdjust="spacingAndGlyphs">2.2</text>
<text class="ls" x="366.4" y="487.943" font-size="13.25" stroke="#000" stroke-width="1.76" textLength="17.23" lengthAdjust="spacingAndGlyphs">2.2</text>
<text class="lo" x="365.6" y="487.043" font-size="13.25" stroke-width="2.16" textLength="17.23" lengthAdjust="spacingAndGlyphs">2.2</text>
<text class="lb" x="365.6" y="487.043" font-size="13.25" stroke-width="0.48" textLength="17.23" lengthAdjust="spacingAndGlyphs">2.2</text>
<text class="ls" x="444.8" y="502.366" font-size="10.52" stroke="#000" stroke-width="1.57" textLength="13.68" lengthAdjust="spacingAndGlyphs">2.4</text>
<text class="lo" x="444" y="501.466" font-size="10.52" stroke-width="1.97" textLength="13.68" lengthAdjust="spacingAndGlyphs">2.4</text>
<text class="lb" x="444" y="501.466" font-size="10.52" stroke-width="0.40" textLength="13.68" lengthAdjust="spacingAndGlyphs">2.4</text>
<text class="ls" x="470.4" y="506.418" font-size="12.34" stroke="#000" stroke-width="1.70" textLength="16.05" lengthAdjust="spacingAndGlyphs">2.7</text>
<text class="lo" x="469.6" y="505.518" font-size="12.34" stroke-width="2.10" textLength="16.05" lengthAdjust="spacingAndGlyphs">2.7</text>
<text class="lb" x="469.6" y="505.518" font-size="12.34" stroke-width="0.45" textLength="16.05" lengthAdjust="spacingAndGlyphs">2.7</text>
<text class="ls" x="497" y="451.136" font-size="13.51" stroke="#000" stroke-width="1.78" textLength="17.57" lengthAdjust="spacingAndGlyphs">2.9</text>
<text class="lo" x="496.2" y="450.236" font-size="13.51" stroke-width="2.18" textLength="17.57" lengthAdjust="spacingAndGlyphs">2.9</text>
<text class="lb" x="496.2" y="450.236" font-size="13.51" stroke-width="0.48" textLength="17.57" lengthAdjust="spacingAndGlyphs">2.9</text>
<text class="ls" x="499.1" y="481.24" font-size="15.2" stroke="#000" stroke-width="1.90" textLength="19.76" lengthAdjust="spacingAndGlyphs">2.3</text>
<text class="lo" x="498.3" y="480.34" font-size="15.2" stroke-width="2.30" textLength="19.76" lengthAdjust="spacingAndGlyphs">2.3</text>
<text class="lb" x="498.3" y="480.34" font-size="15.2" stroke-width="0.53" textLength="19.76" lengthAdjust="spacingAndGlyphs">2.3</text>
<text class="ls" x="571.1" y="492.547" font-size="20.52" stroke="#000" stroke-width="2.28" textLength="26.69" lengthAdjust="spacingAndGlyphs">2.6</text>
<text class="lo" x="570.3" y="491.647" font-size="20.52" stroke-width="2.68" textLength="26.69" lengthAdjust="spacingAndGlyphs">2.6</text>
<text class="lb" x="570.3" y="491.647" font-size="20.52" stroke-width="0.67" textLength="26.69" lengthAdjust="spacingAndGlyphs">2.6</text>
<text class="ls" x="527.1" y="528.473" font-size="15.85" stroke="#000" stroke-width="1.95" textLength="20.61" lengthAdjust="spacingAndGlyphs">2.9</text>
<text class="lo" x="526.3" y="527.573" font-size="15.85" stroke-width="2.35" textLength="20.61" lengthAdjust="spacingAndGlyphs">2.9</text>
<text class="lb" x="526.3" y="527.573" font-size="15.85" stroke-width="0.55" textLength="20.61" lengthAdjust="spacingAndGlyphs">2.9</text>
<text class="ls" x="586.3" y="546.873" font-size="15.85" stroke="#000" stroke-width="1.95" textLength="20.61" lengthAdjust="spacingAndGlyphs">2.4</text>
<text class="lo" x="585.5" y="545.973" font-size="15.85" stroke-width="2.35" textLength="20.61" lengthAdjust="spacingAndGlyphs">2.4</text>
<text class="lb" x="585.5" y="545.973" font-size="15.85" stroke-width="0.55" textLength="20.61" lengthAdjust="spacingAndGlyphs">2.4</text>
<text class="ls" x="507.8" y="554.02" font-size="10.39" stroke="#000" stroke-width="1.56" textLength="13.51" lengthAdjust="spacingAndGlyphs">3.3</text>
<text class="lo" x="507" y="553.12" font-size="10.39" stroke-width="1.96" textLength="13.51" lengthAdjust="spacingAndGlyphs">3.3</text>
<text class="lb" x="507" y="553.12" font-size="10.39" stroke-width="0.40" textLength="13.51" lengthAdjust="spacingAndGlyphs">3.3</text>
<text class="ls" x="531.3" y="554.72" font-size="10.39" stroke="#000" stroke-width="1.56" textLength="5.4" lengthAdjust="spacingAndGlyphs">6</text>
<text class="lo" x="530.5" y="553.82" font-size="10.39" stroke-width="1.96" textLength="5.4" lengthAdjust="spacingAndGlyphs">6</text>
<text class="lb" x="530.5" y="553.82" font-size="10.39" stroke-width="0.40" textLength="5.4" lengthAdjust="spacingAndGlyphs">6</text>
<text class="ls" x="543.3" y="570.171" font-size="12.21" stroke="#000" stroke-width="1.69" textLength="15.88" lengthAdjust="spacingAndGlyphs">3.7</text>
<text class="lo" x="542.5" y="569.271" font-size="12.21" stroke-width="2.09" textLength="15.88" lengthAdjust="spacingAndGlyphs">3.7</text>
<text class="lb" x="542.5" y="569.271" font-size="12.21" stroke-width="0.45" textLength="15.88" lengthAdjust="spacingAndGlyphs">3.7</text>
<text class="ls" x="522.2" y="584.271" font-size="12.21" stroke="#000" stroke-width="1.69" textLength="15.88" lengthAdjust="spacingAndGlyphs">3.7</text>
<text class="lo" x="521.4" y="583.371" font-size="12.21" stroke-width="2.09" textLength="15.88" lengthAdjust="spacingAndGlyphs">3.7</text>
<text class="lb" x="521.4" y="583.371" font-size="12.21" stroke-width="0.45" textLength="15.88" lengthAdjust="spacingAndGlyphs">3.7</text>
<text class="ls" x="550.6" y="607.522" font-size="14.03" stroke="#000" stroke-width="1.82" textLength="18.24" lengthAdjust="spacingAndGlyphs">2.6</text>
<text class="lo" x="549.8" y="606.622" font-size="14.03" stroke-width="2.22" textLength="18.24" lengthAdjust="spacingAndGlyphs">2.6</text>
<text class="lb" x="549.8" y="606.622" font-size="14.03" stroke-width="0.50" textLength="18.24" lengthAdjust="spacingAndGlyphs">2.6</text>
<text class="ls" x="686.6" y="594.212" font-size="21.82" stroke="#000" stroke-width="2.37" textLength="28.37" lengthAdjust="spacingAndGlyphs">3.3</text>
<text class="lo" x="685.8" y="593.312" font-size="21.82" stroke-width="2.77" textLength="28.37" lengthAdjust="spacingAndGlyphs">3.3</text>
<text class="lb" x="685.8" y="593.312" font-size="21.82" stroke-width="0.71" textLength="28.37" lengthAdjust="spacingAndGlyphs">3.3</text>
<text class="ls" x="703.9" y="660.106" font-size="10.91" stroke="#000" stroke-width="1.59" textLength="14.19" lengthAdjust="spacingAndGlyphs">2.7</text>
<text class="lo" x="703.1" y="659.206" font-size="10.91" stroke-width="1.99" textLength="14.19" lengthAdjust="spacingAndGlyphs">2.7</text>
<text class="lb" x="703.1" y="659.206" font-size="10.91" stroke-width="0.41" textLength="14.19" lengthAdjust="spacingAndGlyphs">2.7</text>
<text class="ls" x="463.9" y="687.606" font-size="10.91" stroke="#000" stroke-width="1.59" textLength="14.19" lengthAdjust="spacingAndGlyphs">2.5</text>
<text class="lo" x="463.1" y="686.706" font-size="10.91" stroke-width="1.99" textLength="14.19" lengthAdjust="spacingAndGlyphs">2.5</text>
<text class="lb" x="463.1" y="686.706" font-size="10.91" stroke-width="0.41" textLength="14.19" lengthAdjust="spacingAndGlyphs">2.5</text>
<text class="ls" x="298" y="494.245" font-size="22.47" stroke="#000" stroke-width="2.42" textLength="29.22" lengthAdjust="spacingAndGlyphs">2.1</text>
<text class="lo" x="297.2" y="493.345" font-size="22.47" stroke-width="2.82" textLength="29.22" lengthAdjust="spacingAndGlyphs">2.1</text>
<text class="lb" x="297.2" y="493.345" font-size="22.47" stroke-width="0.73" textLength="29.22" lengthAdjust="spacingAndGlyphs">2.1</text>
<text class="ls" x="203.8" y="598.844" font-size="22.47" stroke="#000" stroke-width="2.42" textLength="29.22" lengthAdjust="spacingAndGlyphs">2.5</text>
<text class="lo" x="203" y="597.944" font-size="22.47" stroke-width="2.82" textLength="29.22" lengthAdjust="spacingAndGlyphs">2.5</text>
<text class="lb" x="203" y="597.944" font-size="22.47" stroke-width="0.73" textLength="29.22" lengthAdjust="spacingAndGlyphs">2.5</text>
<text class="ls" x="142.3" y="586.076" font-size="13.9" stroke="#000" stroke-width="1.81" textLength="18.07" lengthAdjust="spacingAndGlyphs">2.5</text>
<text class="lo" x="141.5" y="585.176" font-size="13.9" stroke-width="2.21" textLength="18.07" lengthAdjust="spacingAndGlyphs">2.5</text>
<text class="lb" x="141.5" y="585.176" font-size="13.9" stroke-width="0.50" textLength="18.07" lengthAdjust="spacingAndGlyphs">2.5</text>
<text class="ls" x="422" y="562.817" font-size="17.92" stroke="#000" stroke-width="2.09" textLength="23.31" lengthAdjust="spacingAndGlyphs">2.3</text>
<text class="lo" x="421.2" y="561.917" font-size="17.92" stroke-width="2.49" textLength="23.31" lengthAdjust="spacingAndGlyphs">2.3</text>
<text class="lb" x="421.2" y="561.917" font-size="17.92" stroke-width="0.60" textLength="23.31" lengthAdjust="spacingAndGlyphs">2.3</text>
</g>
<!-- title bar -->
<g>
<rect x="1" y="24" width="380" height="50.5" rx="3" fill="#000" opacity=".5" filter="url(#sh)"/>
<path d="M0,18.6 H374.5 a2.5,2.5 0 0 1 2.5,2.5 V70 H0 Z" fill="#6d6e71"/>
<rect x="0" y="18.6" width="16" height="51.4" fill="#1fb597"/>
<rect x="0" y="66.2" width="377" height="3.8" fill="#2e9f87"/>
<rect x="0" y="66.2" width="16" height="3.8" fill="#4f8378"/>
<text x="26.5" y="54.4" font-size="33" font-weight="bold" fill="#fff" textLength="233" lengthAdjust="spacingAndGlyphs">Household size</text>
</g>
<!-- legend -->
<g font-weight="bold" font-size="14.7" fill="#111" text-anchor="middle">
<text x="91.5" y="169.1" textLength="108.5" lengthAdjust="spacingAndGlyphs">Average no. of</text>
<text x="90.7" y="189.1" textLength="147.5" lengthAdjust="spacingAndGlyphs">people in household</text>
</g>
<g>
<rect x="31" y="204" width="48" height="24" rx="2.5" fill="#dadaeb"/>
<rect x="31" y="240.3" width="48" height="24" rx="2.5" fill="#9e9ac8"/>
<rect x="31" y="276.6" width="48" height="24" rx="2.5" fill="#7464ad"/>
<rect x="31" y="313.3" width="48" height="24" rx="2.5" fill="#3f007d"/>
</g>
<g font-size="17.3" fill="#111">
<text x="98" y="223" xml:space="preserve" textLength="49.5" lengthAdjust="spacingAndGlyphs">2  - 2.4</text>
<text x="89" y="259.5" textLength="58.5" lengthAdjust="spacingAndGlyphs">2.5 - 2.9</text>
<text x="98" y="295.8" xml:space="preserve" textLength="49.5" lengthAdjust="spacingAndGlyphs">3  - 3.9</text>
<text x="107" y="332.6" textLength="22" lengthAdjust="spacingAndGlyphs">4+</text>
</g>
<!-- source -->
<text x="18.5" y="681.4" font-size="11" font-style="italic" fill="#2a2a2a" textLength="95.5" lengthAdjust="spacingAndGlyphs">Source: Eurostat, 2019</text>
<!-- credits -->
<g>
<circle cx="627" cy="29.5" r="9" fill="#000" opacity=".45" filter="url(#sh2)"/>
<circle cx="625.9" cy="27.6" r="9.4" fill="#2bb59a"/>
<path d="M621.8,20.8 C618.8,23.7 618.5,27.6 620.1,30.8 L622.1,30.5 C621.4,28.8 622.7,27.2 625.3,26.9 L628.5,27.2 C630.4,27.6 631.7,29.2 631.3,31.4 L633.3,30.5 C633.8,27.6 631.7,25.4 628.5,25.1 L624.6,25.1 C623.1,24.4 622.7,22.4 623.6,20.9 Z M622,33 l3,0.4 l-0.5,1.6 l-2,-0.6z M627.5,33.8 l2.2,-0.8 l-0.2,2 l-1.8,0.4z" fill="#fff"/>
<rect x="619" y="43" width="15" height="15" rx="3.5" fill="#000" opacity=".45" filter="url(#sh2)"/>
<rect x="617.2" y="41.2" width="14.4" height="14.4" rx="3.6" fill="#fff" stroke="#111" stroke-width="1.8"/>
<circle cx="624.4" cy="48.4" r="3.3" fill="none" stroke="#111" stroke-width="1.7"/>
<circle cx="628.6" cy="44.2" r="1" fill="#111"/>
<circle cx="626" cy="74.5" r="8" fill="#000" opacity=".45" filter="url(#sh2)"/>
<circle cx="624.4" cy="73" r="8.2" fill="#222"/>
<path d="M629.3,70.2 q-0.7,0.4 -1.3,0.4 q0.7,-0.5 1,-1.3 q-0.7,0.4 -1.5,0.6 a2.3,2.3 0 0 0 -4,2.1 q-2.9,-0.2 -4.7,-2.4 q-1,2 0.7,3.1 q-0.6,0 -1,-0.3 q0,1.8 1.8,2.3 q-0.5,0.2 -1,0 q0.5,1.4 2.1,1.6 q-1.5,1.2 -3.4,1 q5.5,3 9.3,-2 q1,-1.6 0.9,-3.7 q0.7,-0.5 1.1,-1.4z" fill="#fff"/>
</g>
<g fill="#1a1a1a">
<text x="643.6" y="32.7" font-size="15.2" textLength="118.8" lengthAdjust="spacingAndGlyphs">Landgeist.com</text>
<text x="644.2" y="53.5" font-size="14.7" textLength="89.6" lengthAdjust="spacingAndGlyphs">@Land_geist</text>
<text x="644.2" y="77" font-size="14.7" textLength="81.5" lengthAdjust="spacingAndGlyphs">@Landgeist</text>
</g>

</svg></body></html>
